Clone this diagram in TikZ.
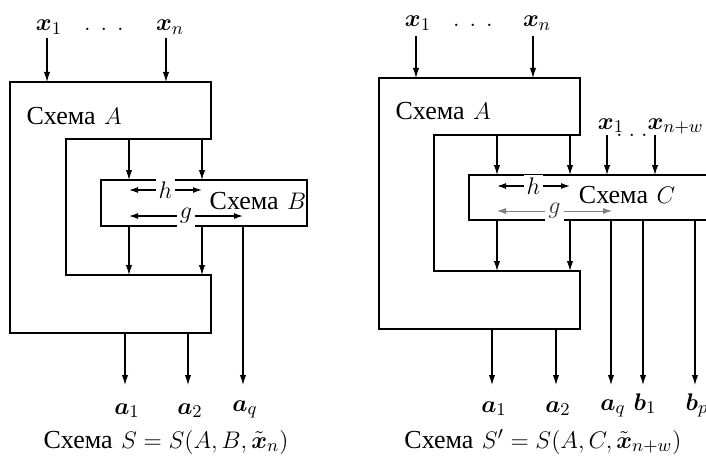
\documentclass[tikz,border=0pt]{standalone}
\usepackage{amsmath}
\usepackage{fontspec}
\newfontfamily\cyr{Liberation Serif}
\usetikzlibrary{arrows.meta}
\begin{document}
\begin{tikzpicture}[x=0.5pt,y=-0.5pt,
  line width=0.6pt,
  sig/.style={-{Latex[length=5pt,width=3.2pt]}},
  dim/.style={{Latex[length=4.5pt,width=3pt]}-{Latex[length=4.5pt,width=3pt]}},
  lbl/.style={inner sep=0.5pt,font=\fontsize{13}{15}\selectfont},
  txt/.style={inner sep=0pt,font=\fontsize{13}{15}\selectfont},
  dimlbl/.style={fill=white,inner sep=1.5pt,font=\fontsize{13}{15}\selectfont}]
\useasboundingbox (0,0) rectangle (706,460);
% ===================== LEFT =====================
\draw (10,82) -- (211,82) -- (211,139) -- (66,139) -- (66,275) -- (211,275) -- (211,333) -- (10,333) -- cycle;
\node[txt,anchor=west] (lA) at (26,116) {{\cyr Схема} $A$};
\draw (101,180) rectangle (307,226);
\node[txt] (lB) at (258,201) {{\cyr Схема} $B$};
% inputs
\node[lbl,anchor=base] (lx1) at (49,31) {$\boldsymbol{x}_1$};
\node[lbl,anchor=base] (ldots) at (104,31) {$.\hspace{5pt}.\hspace{5pt}.$};
\node[lbl,anchor=base] (lxn) at (170,31) {$\boldsymbol{x}_n$};
\coordinate (lx1t) at (47,38); \coordinate (lx1b) at (47,82);
\coordinate (lxnt) at (166,38); \coordinate (lxnb) at (166,82);
\draw[sig] (lx1t) -- (lx1b);
\draw[sig] (lxnt) -- (lxnb);
% A -> B
\coordinate (lu1) at (129,139); \coordinate (lv1) at (129,180);
\coordinate (lu2) at (202,139); \coordinate (lv2) at (202,180);
\draw[sig] (lu1) -- (lv1);
\draw[sig] (lu2) -- (lv2);
% h, g
\coordinate (lh1) at (129,190); \coordinate (lh2) at (202,190);
\draw[dim] (lh1) -- (lh2) node[midway,dimlbl] (lh) {$h$};
\coordinate (lg1) at (129,216); \coordinate (lg2) at (243,216);
\draw[dim] (lg1) -- (lg2) node[pos=0.5,dimlbl] (lg) {$g$};
% B -> A
\coordinate (lw1) at (129,226); \coordinate (lz1) at (129,275);
\coordinate (lw2) at (202,226); \coordinate (lz2) at (202,275);
\draw[sig] (lw1) -- (lz1);
\draw[sig] (lw2) -- (lz2);
% outputs
\coordinate (lqt) at (243,226); \coordinate (lqb) at (243,385);
\draw[sig] (lqt) -- (lqb);
\coordinate (lo1t) at (125,333); \coordinate (lo1b) at (125,385);
\coordinate (lo2t) at (188,333); \coordinate (lo2b) at (188,385);
\draw[sig] (lo1t) -- (lo1b);
\draw[sig] (lo2t) -- (lo2b);
\node[lbl,anchor=base] (la1) at (127,414) {$\boldsymbol{a}_1$};
\node[lbl,anchor=base] (la2) at (190,414) {$\boldsymbol{a}_2$};
\node[lbl,anchor=base] (laq) at (245,411) {$\boldsymbol{a}_q$};
\node[txt,anchor=base] (lcap) at (166,448) {{\cyr Схема} $S=S(A,B,\tilde{\boldsymbol{x}}_n)$};
% ===================== RIGHT =====================
\draw (379,78) -- (580,78) -- (580,135) -- (434,135) -- (434,271) -- (580,271) -- (580,329) -- (379,329) -- cycle;
\node[txt,anchor=west] (rA) at (395,111) {{\cyr Схема} $A$};
\draw (706,175) -- (469,175) -- (469,220) -- (706,220);
\node[txt] (rC) at (627,195) {{\cyr Схема} $C$};
% inputs
\node[lbl,anchor=base] (rx1) at (418,27) {$\boldsymbol{x}_1$};
\node[lbl,anchor=base] (rdots) at (473,27) {$.\hspace{5pt}.\hspace{5pt}.$};
\node[lbl,anchor=base] (rxn) at (537,27) {$\boldsymbol{x}_n$};
\coordinate (rx1t) at (416,36); \coordinate (rx1b) at (416,78);
\coordinate (rxnt) at (533,36); \coordinate (rxnb) at (533,78);
\draw[sig] (rx1t) -- (rx1b);
\draw[sig] (rxnt) -- (rxnb);
\node[lbl,anchor=base] (ry1) at (611,129) {$\boldsymbol{x}_1$};
\node[lbl,anchor=base] (rdots2) at (632,136) {$.\hspace{3pt}.\hspace{3pt}.$};
\node[lbl,anchor=base west] (ryn) at (646,129) {$\boldsymbol{x}_{n+w}$};
\coordinate (ry1t) at (607,135); \coordinate (ry1b) at (607,175);
\coordinate (rynt) at (655,135); \coordinate (rynb) at (655,175);
\draw[sig] (ry1t) -- (ry1b);
\draw[sig] (rynt) -- (rynb);
% A -> C
\coordinate (ru1) at (497,135); \coordinate (rv1) at (497,175);
\coordinate (ru2) at (570,135); \coordinate (rv2) at (570,175);
\draw[sig] (ru1) -- (rv1);
\draw[sig] (ru2) -- (rv2);
% h, g
\coordinate (rh1) at (497,186); \coordinate (rh2) at (570,186);
\draw[dim] (rh1) -- (rh2) node[midway,dimlbl] (rh) {$h$};
\coordinate (rg1) at (497,211); \coordinate (rg2) at (612,211);
\draw[dim,gray,line width=0.4pt] (rg1) -- (rg2) node[pos=0.5,dimlbl,text=black!80] (rg) {$g$};
% C -> A
\coordinate (rw1) at (497,220); \coordinate (rz1) at (497,271);
\coordinate (rw2) at (570,220); \coordinate (rz2) at (570,271);
\draw[sig] (rw1) -- (rz1);
\draw[sig] (rw2) -- (rz2);
% outputs
\coordinate (rqt) at (611,220); \coordinate (rqb) at (611,385);
\coordinate (rb1t) at (643,220); \coordinate (rb1b) at (643,385);
\coordinate (rbpt) at (695,220); \coordinate (rbpb) at (695,385);
\draw[sig] (rqt) -- (rqb);
\draw[sig] (rb1t) -- (rb1b);
\draw[sig] (rbpt) -- (rbpb);
\coordinate (ro1t) at (492,329); \coordinate (ro1b) at (492,385);
\coordinate (ro2t) at (556,329); \coordinate (ro2b) at (556,385);
\draw[sig] (ro1t) -- (ro1b);
\draw[sig] (ro2t) -- (ro2b);
\node[lbl,anchor=base] (ra1) at (494,412) {$\boldsymbol{a}_1$};
\node[lbl,anchor=base] (ra2) at (558,412) {$\boldsymbol{a}_2$};
\node[lbl,anchor=base] (raq) at (613,410) {$\boldsymbol{a}_q$};
\node[lbl,anchor=base] (rb1) at (645,410) {$\boldsymbol{b}_1$};
\node[lbl,anchor=base] (rbp) at (697,410) {$\boldsymbol{b}_p$};
\node[txt,anchor=base] (rcap) at (543,448) {{\cyr Схема} $S'=S(A,C,\tilde{\boldsymbol{x}}_{n+w})$};
\end{tikzpicture}
\end{document}
